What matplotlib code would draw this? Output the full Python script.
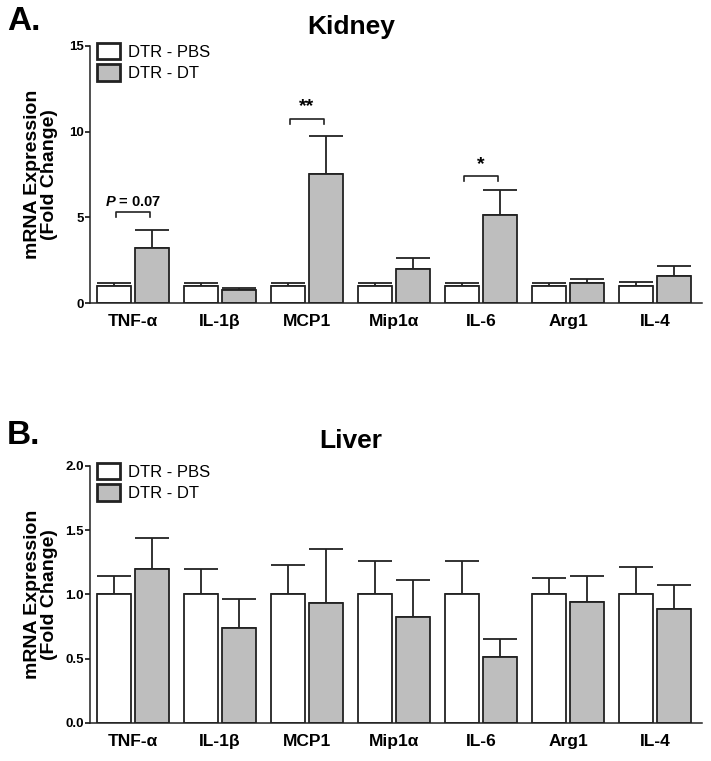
import numpy as np
import matplotlib
matplotlib.use("Agg")
import matplotlib.pyplot as plt
from matplotlib.patches import Patch

plt.rcParams["font.family"] = ["Liberation Sans", "DejaVu Sans"]
plt.rcParams["mathtext.fontset"] = "custom"
plt.rcParams["mathtext.it"] = "Liberation Sans:italic:bold"
plt.rcParams["mathtext.rm"] = "Liberation Sans:bold"

genes = ["TNF-α", "IL-1β", "MCP1", "Mip1α", "IL-6", "Arg1", "IL-4"]

kidney_pbs = [1.0, 1.0, 1.0, 1.0, 1.0, 1.0, 1.0]
kidney_pbs_err = [0.15, 0.16, 0.16, 0.15, 0.15, 0.15, 0.24]
kidney_dt = [3.19, 0.76, 7.55, 1.97, 5.12, 1.19, 1.60]
kidney_dt_err = [1.07, 0.10, 2.18, 0.63, 1.46, 0.21, 0.58]

liver_pbs = [1.0, 1.0, 1.0, 1.0, 1.0, 1.0, 1.0]
liver_pbs_err = [0.14, 0.20, 0.23, 0.26, 0.26, 0.13, 0.215]
liver_dt = [1.20, 0.74, 0.935, 0.82, 0.51, 0.943, 0.884]
liver_dt_err = [0.24, 0.22, 0.42, 0.29, 0.145, 0.197, 0.186]

# significance brackets on kidney panel: (gene index, bracket y, label)
kidney_sig = [(0, 5.0, "$P$ = 0.07"), (2, 10.45, "**"), (4, 7.1, "*")]

W, H = 711, 761
fig = plt.figure(figsize=(W / 100, H / 100), dpi=100)

def panel(rect, pbs, pbs_err, dt, dt_err, ymax, yticks, ticklabels):
    ax = fig.add_axes(rect)
    x = np.arange(len(genes))
    bw = 0.39
    off = 0.218
    ax.bar(x - off, pbs, bw, color="white", edgecolor="#222222", linewidth=1.3, zorder=2)
    ax.bar(x + off, dt, bw, color="#bebebe", edgecolor="#222222", linewidth=1.3, zorder=2)
    ax.errorbar(x - off, pbs, yerr=[np.zeros(len(x)), pbs_err], fmt="none",
                ecolor="#222222", elinewidth=1.3, capsize=12, capthick=1.3, zorder=1)
    ax.errorbar(x + off, dt, yerr=[np.zeros(len(x)), dt_err], fmt="none",
                ecolor="#222222", elinewidth=1.3, capsize=12, capthick=1.3, zorder=1)
    ax.set_xlim(-0.494, 6.54)
    ax.set_ylim(0, ymax)
    ax.set_yticks(yticks)
    ax.set_yticklabels(ticklabels, fontsize=9.5, fontweight="bold")
    ax.set_xticks(x)
    ax.set_xticklabels(genes, fontsize=12.5, fontweight="bold")
    ax.tick_params(axis="x", length=0, pad=8)
    ax.tick_params(axis="y", length=3.5, width=1.1, pad=1)
    for s in ["top", "right"]:
        ax.spines[s].set_visible(False)
    for s in ["left", "bottom"]:
        ax.spines[s].set_linewidth(1.1)
        ax.spines[s].set_color("#222222")
    ax.set_ylabel("mRNA Expression\n(Fold Change)", fontsize=14, fontweight="bold",
                  linespacing=1.05)
    ax.yaxis.set_label_coords(-0.052, 0.5)
    handles = [Patch(facecolor="white", edgecolor="#222222", linewidth=2),
               Patch(facecolor="#bebebe", edgecolor="#222222", linewidth=2)]
    ax.legend(handles, ["DTR - PBS", "DTR - DT"], loc="upper left",
              bbox_to_anchor=(0.011, 1.012), frameon=False, fontsize=12,
              handlelength=1.4, handleheight=1.15, labelspacing=0.25,
              handletextpad=0.45, borderpad=0, borderaxespad=0)
    return ax

axA = panel([90 / W, 1 - 303 / H, 612 / W, 257 / H], kidney_pbs, kidney_pbs_err,
            kidney_dt, kidney_dt_err, 15, [0, 5, 10, 15], ["0", "5", "10", "15"])
axB = panel([90 / W, 1 - 722.7 / H, 612 / W, 256.7 / H], liver_pbs, liver_pbs_err,
            liver_dt, liver_dt_err, 2.0, [0, 0.5, 1.0, 1.5, 2.0],
            ["0.0", "0.5", "1.0", "1.5", "2.0"])

for i, y, lab in kidney_sig:
    x0, x1 = i - 0.2, i + 0.2
    h = 0.3
    axA.plot([x0, x0, x1, x1], [y, y + h, y + h, y], color="#222222", lw=1.2,
             clip_on=False)
    fs = 10.5 if lab.startswith("$") else 14
    axA.text(i, y + h + 0.2, lab, ha="center", va="bottom", fontsize=fs,
             fontweight="bold")

fig.text(7 / W, 1 - 6 / H, "A.", fontsize=24, fontweight="bold", va="top", ha="left")
fig.text(351 / W, 1 - 15 / H, "Kidney", fontsize=19, fontweight="bold", va="top", ha="center")
fig.text(7 / W, 1 - 420 / H, "B.", fontsize=24, fontweight="bold", va="top", ha="left")
fig.text(351 / W, 1 - 429 / H, "Liver", fontsize=19, fontweight="bold", va="top", ha="center")

fig.savefig("out.png", dpi=100)
